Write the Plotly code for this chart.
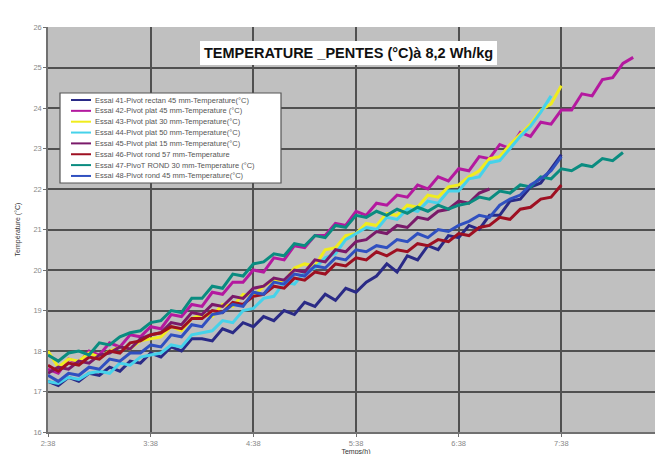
import plotly.graph_objects as go

# time base: minutes after 2:38, sampled every 6 minutes
minutes = list(range(0, 361, 6))
tick_minutes = [0, 60, 120, 180, 240, 300, 360]
tick_labels = ["2:38", "3:38", "4:38", "5:38", "6:38", "7:38", "8:38"]

names = [
    "Essai 41-Pivot rectan 45 mm-Temperature(°C)",
    "Essai 42-Pivot plat 45 mm-Temperature (°C)",
    "Essai 43-Pivot plat 30 mm-Temperature(°C)",
    "Essai 44-Pivot plat 50 mm-Temperature(°C)",
    "Essai 45-Pivot plat 15 mm-Temperature(°C)",
    "Essai 46-Pivot rond 57 mm-Temperature",
    "Essai 47-PivoT ROND 30 mm-Temperature (°C)",
    "Essai 48-Pivot rond 45 mm-Temperature(°C)",
]
colors = ["#2a2a86", "#b4199f", "#f0ec1e", "#46d2ea", "#7a1a6a", "#9e1022", "#0a8c80", "#3050c0"]

essai41 = [17.25, 17.15, 17.35, 17.25, 17.45, 17.4, 17.6, 17.5, 17.75, 17.7, 17.95, 17.85, 18.1, 18.0,
           18.3, 18.3, 18.25, 18.55, 18.45, 18.7, 18.6, 18.85, 18.75, 19.0, 18.9, 19.2, 19.1, 19.4,
           19.25, 19.55, 19.45, 19.7, 19.85, 20.15, 19.95, 20.35, 20.25, 20.6, 20.5, 20.85, 20.8, 21.1,
           21.0, 21.35, 21.35, 21.7, 21.75, 22.05, 22.15, 22.5, 22.85]
essai42 = [17.55, 17.45, 17.8, 17.7, 18.0, 17.9, 18.2, 18.1, 18.4, 18.35, 18.6, 18.55, 18.9, 18.85,
           19.15, 19.1, 19.45, 19.4, 19.7, 19.7, 20.0, 19.95, 20.3, 20.25, 20.6, 20.55, 20.85, 20.85,
           21.15, 21.1, 21.45, 21.35, 21.65, 21.6, 21.85, 21.8, 22.1, 22.0, 22.3, 22.2, 22.5, 22.45,
           22.8, 22.75, 23.1, 23.0, 23.4, 23.3, 23.65, 23.6, 23.95, 23.95, 24.35, 24.3, 24.7, 24.75,
           25.1, 25.25]
essai43 = [18.0, 17.6, 17.8, 17.75, 17.95, 17.85, 18.0, 18.1, 18.05, 18.25, 18.3, 18.35, 18.6, 18.5,
           18.8, 18.9, 18.85, 19.15, 19.1, 19.4, 19.35, 19.6, 19.75, 19.7, 20.05, 20.15, 20.1, 20.5,
           20.55, 20.85, 20.9, 21.15, 21.1, 21.4, 21.35, 21.6, 21.55, 21.85, 21.8, 22.05, 22.1, 22.3,
           22.45, 22.75, 22.8, 23.1, 23.35, 23.6, 23.95, 24.1, 24.55]
essai44 = [17.25, 17.2, 17.35, 17.3, 17.45, 17.5, 17.45, 17.7, 17.65, 17.85, 17.9, 17.95, 18.15, 18.1,
           18.4, 18.45, 18.5, 18.75, 18.7, 19.0, 19.05, 19.3, 19.35, 19.7, 19.65, 19.95, 20.05, 20.3,
           20.4, 20.75, 20.9, 21.05, 21.0, 21.3, 21.25, 21.5, 21.45, 21.7, 21.65, 21.95, 21.95, 22.25,
           22.3, 22.65, 22.7, 23.0, 23.3, 23.55, 23.9, 24.3]
essai45 = [17.45, 17.6, 17.55, 17.75, 17.7, 17.9, 17.95, 18.1, 18.05, 18.3, 18.4, 18.45, 18.7, 18.65,
           18.95, 18.9, 19.15, 19.1, 19.35, 19.3, 19.55, 19.6, 19.8, 19.75, 20.0, 19.95, 20.25, 20.2,
           20.5, 20.45, 20.7, 20.75, 20.95, 20.9, 21.1, 21.05, 21.3, 21.25, 21.45, 21.5, 21.7, 21.65,
           21.9, 22.0]
essai46 = [17.65, 17.5, 17.7, 17.65, 17.85, 17.8, 18.0, 17.95, 18.2, 18.25, 18.4, 18.45, 18.6, 18.55,
           18.8, 18.8, 19.0, 18.95, 19.2, 19.15, 19.35, 19.4, 19.6, 19.55, 19.8, 19.75, 19.95, 19.9,
           20.15, 20.1, 20.3, 20.25, 20.45, 20.35, 20.5, 20.45, 20.65, 20.6, 20.75, 20.7, 20.9, 20.85,
           21.05, 21.1, 21.3, 21.25, 21.5, 21.55, 21.75, 21.8, 22.1]
essai47 = [17.9, 17.75, 17.95, 18.0, 17.9, 18.2, 18.15, 18.35, 18.45, 18.5, 18.7, 18.75, 19.0, 18.95,
           19.3, 19.3, 19.6, 19.55, 19.9, 19.85, 20.15, 20.2, 20.4, 20.35, 20.65, 20.6, 20.85, 20.8,
           21.1, 21.05, 21.35, 21.3, 21.45, 21.35, 21.5, 21.4, 21.55, 21.45, 21.6, 21.5, 21.6, 21.65,
           21.8, 21.75, 21.95, 21.9, 22.1, 22.05, 22.3, 22.25, 22.5, 22.45, 22.6, 22.55, 22.75, 22.7,
           22.9]
essai48 = [17.4, 17.25, 17.45, 17.4, 17.6, 17.55, 17.8, 17.75, 17.95, 17.95, 18.15, 18.1, 18.4, 18.35,
           18.65, 18.6, 18.9, 18.95, 19.15, 19.1, 19.45, 19.4, 19.7, 19.65, 19.9, 19.85, 20.1, 20.05,
           20.3, 20.25, 20.5, 20.45, 20.6, 20.55, 20.75, 20.7, 20.9, 20.8, 21.0, 20.95, 21.1, 21.2,
           21.35, 21.3, 21.6, 21.75, 21.85, 22.1, 22.25, 22.45, 22.8]

series = [essai41, essai42, essai43, essai44, essai45, essai46, essai47, essai48]

title_text = "TEMPERATURE _PENTES (°C)à 8,2 Wh/kg"
x_title = "Temps(h)"
y_title = "Température (°C)"

fig = go.Figure()
for name, col, vals in zip(names, colors, series):
    fig.add_trace(go.Scatter(
        x=minutes[:len(vals)], y=vals, mode="lines", name=name,
        line=dict(color=col, width=3), showlegend=False,
    ))

# plot-area geometry in pixels (for the hand-made compact legend)
W, H = 663, 454
ML, MR, MT, MB = 40, 7, 19, 30
PW, PH = W - ML - MR, H - MT - MB


def px_x(px):
    return (px - ML) / PW


def px_y(py):
    return 1 - (py - MT) / PH


shapes = []
annotations = []
# legend box
shapes.append(dict(type="rect", xref="paper", yref="paper",
                   x0=px_x(52), x1=px_x(273), y0=px_y(175), y1=px_y(85),
                   fillcolor="white", line=dict(color="#555555", width=1.2), layer="above"))
for i, (name, col) in enumerate(zip(names, colors)):
    yy = 92 + i * 10.85
    shapes.append(dict(type="line", xref="paper", yref="paper",
                       x0=px_x(63), x1=px_x(83), y0=px_y(yy), y1=px_y(yy),
                       line=dict(color=col, width=2), layer="above"))
    annotations.append(dict(xref="paper", yref="paper", x=px_x(85), y=px_y(yy),
                            xanchor="left", yanchor="middle", showarrow=False,
                            text=name, font=dict(family="Arial, Liberation Sans", size=7.5, color="#555555")))

# title box
annotations.append(dict(xref="paper", yref="paper", x=px_x(340), y=px_y(45),
                        xanchor="center", yanchor="middle", showarrow=False,
                        text="<b>" + title_text + "</b>",
                        font=dict(family="Arial, Liberation Sans", size=14.5, color="#111111"),
                        bgcolor="white", borderpad=4, borderwidth=0))

fig.update_layout(
    width=W, height=H,
    margin=dict(l=ML, r=MR, t=MT, b=MB),
    paper_bgcolor="white",
    plot_bgcolor="#c0c0c0",
    shapes=shapes,
    annotations=annotations,
    showlegend=False,
    xaxis=dict(
        range=[0, 360], tickmode="array", tickvals=tick_minutes, ticktext=tick_labels,
        showgrid=True, gridcolor="#505050", gridwidth=1.5, zeroline=False,
        showline=True, linecolor="#707070", linewidth=1.5,
        ticks="outside", ticklen=3, tickcolor="#707070",
        tickfont=dict(family="Arial, Liberation Sans", size=7.5, color="#888888"),
        title=dict(text=x_title, font=dict(family="Arial, Liberation Sans", size=7, color="#333333"), standoff=2),
    ),
    yaxis=dict(
        range=[16, 26], dtick=1,
        showgrid=True, gridcolor="#505050", gridwidth=1.5, zeroline=False,
        showline=True, linecolor="#707070", linewidth=1.5,
        ticks="outside", ticklen=3, tickcolor="#707070",
        tickfont=dict(family="Arial, Liberation Sans", size=7.5, color="#888888"),
        title=dict(text=y_title, font=dict(family="Arial, Liberation Sans", size=7, color="#333333"), standoff=12),
    ),
)

fig.write_html("out.html")
